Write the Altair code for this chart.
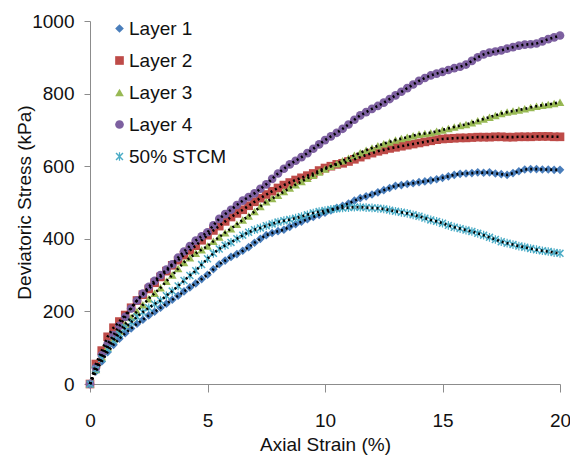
import altair as alt
import pandas as pd

strain = [i * 0.25 for i in range(81)]

layer1 = [0, 35, 62, 88, 108, 125, 140, 153, 166, 177, 189, 199, 210, 221, 232, 243, 255, 266, 277, 289,
          301, 316, 330, 340, 350, 358, 367, 377, 389, 400, 410, 416, 421, 425, 433, 440, 447, 454, 460, 466,
          472, 478, 485, 491, 497, 505, 512, 517, 522, 528, 534, 540, 546, 548, 551, 553, 556, 558, 561, 564,
          568, 572, 576, 579, 580, 581, 583, 582, 583, 580, 578, 576, 581, 586, 591, 592, 592, 591, 591, 590,
          590]
layer2 = [0, 55, 92, 130, 155, 172, 190, 210, 230, 246, 262, 279, 295, 311, 327, 341, 355, 368, 381, 396,
          410, 423, 435, 448, 460, 470, 480, 491, 502, 512, 522, 531, 540, 548, 555, 562, 568, 574, 580, 588,
          595, 600, 605, 608, 613, 619, 625, 631, 636, 641, 645, 649, 652, 655, 658, 661, 664, 667, 670, 673,
          675, 676, 677, 678, 678, 679, 680, 680, 680, 681, 681, 680, 680, 681, 681, 681, 682, 682, 682, 681,
          681]
layer3 = [0, 40, 75, 102, 125, 146, 165, 183, 200, 218, 235, 250, 265, 283, 300, 318, 335, 348, 360, 370,
          380, 393, 405, 417, 428, 440, 452, 463, 475, 489, 502, 511, 520, 530, 540, 549, 558, 567, 575, 584,
          592, 600, 607, 615, 622, 630, 637, 644, 650, 656, 662, 667, 672, 676, 680, 684, 688, 690, 692, 696,
          700, 704, 708, 712, 715, 720, 725, 730, 735, 740, 745, 749, 752, 755, 758, 762, 765, 768, 770, 773,
          776]
layer4 = [0, 45, 80, 110, 135, 160, 185, 208, 230, 249, 268, 284, 300, 315, 330, 348, 365, 380, 395, 407,
          418, 437, 455, 468, 480, 493, 505, 515, 525, 538, 550, 565, 580, 593, 605, 615, 625, 636, 648, 660,
          672, 682, 692, 703, 715, 728, 740, 749, 758, 766, 775, 785, 795, 805, 815, 825, 835, 843, 850, 855,
          860, 865, 870, 874, 880, 890, 900, 908, 913, 916, 919, 924, 928, 932, 935, 936, 938, 944, 950, 955,
          960]
stcm50 = [0, 40, 70, 97, 120, 138, 155, 170, 185, 198, 210, 220, 230, 243, 256, 270, 285, 299, 312, 329,
          345, 360, 372, 382, 390, 400, 410, 418, 425, 430, 436, 441, 446, 450, 453, 457, 461, 466, 471, 475,
          478, 481, 483, 485, 486, 487, 487, 486, 485, 484, 482, 479, 476, 473, 470, 466, 462, 457, 452, 448,
          443, 437, 432, 428, 424, 420, 415, 410, 404, 398, 392, 388, 384, 380, 377, 373, 370, 367, 365, 362,
          360]

series_names = ["Layer 1", "Layer 2", "Layer 3", "Layer 4", "50% STCM"]
series_values = [layer1, layer2, layer3, layer4, stcm50]
colors = ["#4A7EBB", "#BE4B48", "#98B954", "#7D60A0", "#4BACC6"]
marker_sizes = [75, 75, 75, 75, 120]

x_ticks = [0, 5, 10, 15, 20]
y_ticks = [0, 200, 400, 600, 800, 1000]

asterisk = ("M-0.14,-1L0.14,-1L0.14,1L-0.14,1Z "
            "M-0.68,-0.92L0.92,0.68L0.68,0.92L-0.92,-0.68Z "
            "M-0.68,0.92L-0.92,0.68L0.68,-0.92L0.92,-0.68Z")
shapes = ["diamond", "square", "triangle-up", "circle", asterisk]

rows = []
for name, vals in zip(series_names, series_values):
    for s, v in zip(strain, vals):
        rows.append({"series": name, "strain": s, "stress": v})
df = pd.DataFrame(rows)

FONT = "Liberation Sans"

x_enc = alt.X("strain:Q",
              scale=alt.Scale(domain=[0, 20], nice=False),
              axis=alt.Axis(values=x_ticks, title="Axial Strain (%)", grid=False,
                            tickSize=8, labelPadding=19, titlePadding=5,
                            labelFontSize=19, titleFontSize=19, labelFont=FONT, titleFont=FONT,
                            labelColor="#111111", titleColor="#111111", titleFontWeight="normal",
                            domainColor="#8C8C8C", tickColor="#8C8C8C", labelFlush=False))
y_enc = alt.Y("stress:Q",
              scale=alt.Scale(domain=[0, 1000], nice=False),
              axis=alt.Axis(values=y_ticks, title="Deviatoric Stress (kPa)", grid=False, format="d",
                            tickSize=6, labelPadding=10, titleX=-56, titleY=181,
                            labelFontSize=19, titleFontSize=19, labelFont=FONT, titleFont=FONT,
                            labelColor="#111111", titleColor="#111111", titleFontWeight="normal",
                            domainColor="#8C8C8C", tickColor="#8C8C8C"))

points = alt.Chart(df).mark_point(filled=True, opacity=1).encode(
    x=x_enc,
    y=y_enc,
    color=alt.Color("series:N", scale=alt.Scale(domain=series_names, range=colors),
                    sort=series_names,
                    legend=alt.Legend(title=None, orient="none", legendX=20, legendY=-2,
                                      labelFontSize=19, labelFont=FONT, labelColor="#111111",
                                      symbolSize=40, rowPadding=12, labelOffset=0,
                                      symbolStrokeWidth=0)),
    shape=alt.Shape("series:N", scale=alt.Scale(domain=series_names, range=shapes),
                    sort=series_names, legend=None),
    size=alt.Size("series:N", scale=alt.Scale(domain=series_names, range=marker_sizes),
                  legend=None),
    order=alt.Order("idx:Q"),
).transform_calculate(
    idx="indexof(['Layer 1','Layer 2','Layer 3','Layer 4','50% STCM'], datum.series)"
)

lines = alt.Chart(df).mark_line(color="black", strokeDash=[2, 3], strokeWidth=2.6).encode(
    x="strain:Q",
    y="stress:Q",
    detail="series:N",
)

chart = alt.layer(points, lines).properties(
    width=470, height=363,
    autosize=alt.AutoSizeParams(type="none"),
    padding={"left": 82, "top": 13, "right": 10, "bottom": 72},
).configure_view(stroke=None)

chart.save("out.html", embed_options={"renderer": "svg", "actions": False})
